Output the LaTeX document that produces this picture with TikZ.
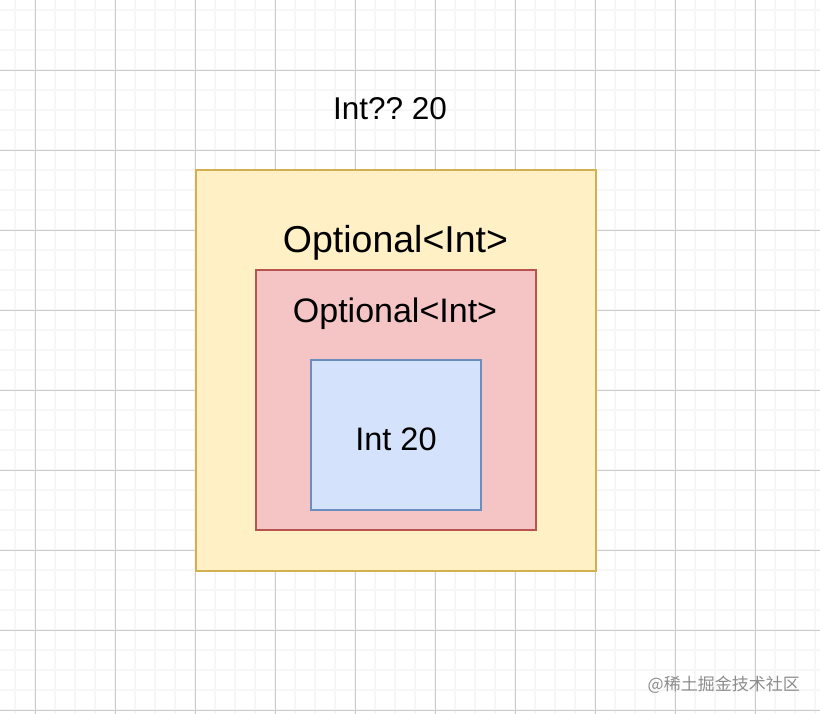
\documentclass[tikz,border=0pt]{standalone}
\usepackage{fontspec}
\setmainfont{Liberation Sans}
\newfontfamily\cjk{Noto Sans CJK SC}
\usepackage{xcolor}
\definecolor{optfill}{HTML}{FFF1C5}
\definecolor{optline}{HTML}{D2B050}
\definecolor{innfill}{HTML}{F4C5C4}
\definecolor{innline}{HTML}{B85450}
\definecolor{intfill}{HTML}{D4E3FB}
\definecolor{intline}{HTML}{6C8EBF}
\definecolor{gridmin}{HTML}{F6F6F6}
\definecolor{gridmaj}{HTML}{CBCBCB}
\usepackage{tikz}
\usetikzlibrary{positioning}
\frenchspacing

\begin{document}
\begin{tikzpicture}[x=1pt,y=-1pt,
  box/.style={draw,line width=2pt,inner sep=0pt},
  txt/.style={anchor=base,inner sep=0pt}]
  \useasboundingbox (0,0) rectangle (820,714);

  % grid
  \foreach \x in {15,35,...,815}
    \draw[gridmin,line width=1.5pt] (\x,0) -- (\x,714);
  \foreach \y in {10,30,...,710}
    \draw[gridmin,line width=1.5pt] (0,\y) -- (820,\y);
  \foreach \x in {35,115,...,755}
    \draw[gridmaj,line width=0.8pt] (\x,0) -- (\x,714);
  \foreach \y in {70,150,...,710}
    \draw[gridmaj,line width=0.8pt] (0,\y) -- (820,\y);

  \node[box,draw=optline,fill=optfill,minimum width=400pt,minimum height=400pt]
    (outer) at (395.5,370.5) {};
  \node[box,draw=innline,fill=innfill,minimum width=280pt,minimum height=260pt]
    (inner) at (396,400) {};
  \node[box,draw=intline,fill=intfill,minimum width=170pt,minimum height=150pt]
    (value) at (396,435) {};

  \node[txt,font=\fontsize{31.5}{36}\selectfont] (title) at (390,120) {Int?? 20};
  \node[txt,font=\fontsize{37.5}{42}\selectfont] (outerlbl) at (395.5,253) {Optional<Int>};
  \node[txt,font=\fontsize{34}{40}\selectfont] (innerlbl) at (395,323) {Optional<Int>};
  \node[txt,font=\fontsize{32.5}{38}\selectfont] (valuelbl) at (396,450) {Int 20};

  \node[anchor=east,inner sep=0pt,text=black!45,font=\cjk\fontsize{17}{20}\selectfont]
    (mark) at (800,685) {@稀土掘金技术社区};
\end{tikzpicture}
\end{document}
